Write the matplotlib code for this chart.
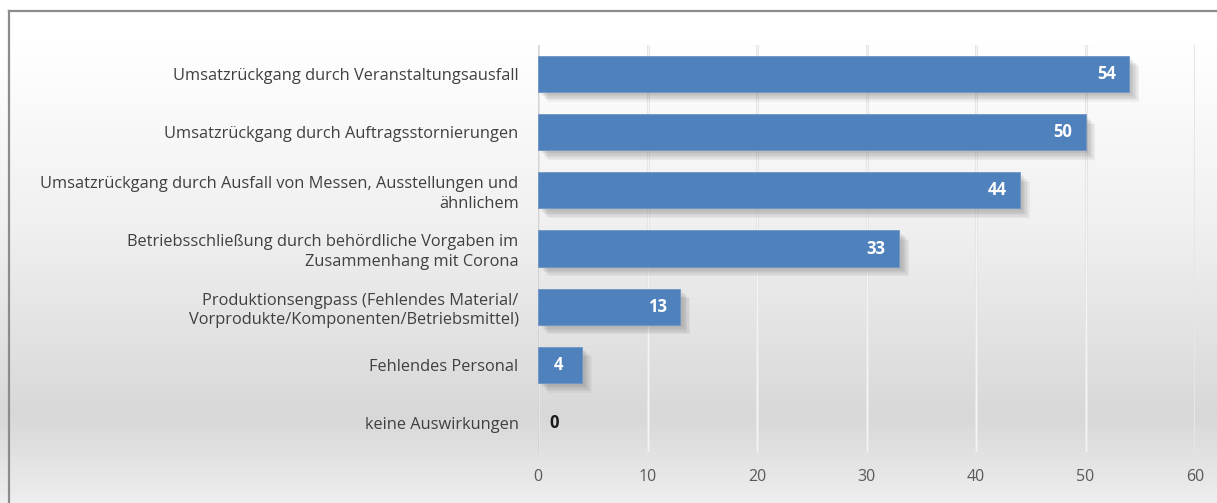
import matplotlib
matplotlib.use("Agg")
import matplotlib.pyplot as plt
import numpy as np
from matplotlib import patheffects as pe
from matplotlib.colors import LinearSegmentedColormap

categories = [
    "Umsatzrückgang durch Veranstaltungsausfall",
    "Umsatzrückgang durch Auftragsstornierungen",
    "Umsatzrückgang durch Ausfall von Messen, Ausstellungen und\nähnlichem",
    "Betriebsschließung durch behördliche Vorgaben im\nZusammenhang mit Corona",
    "Produktionsengpass (Fehlendes Material/\nVorprodukte/Komponenten/Betriebsmittel)",
    "Fehlendes Personal",
    "keine Auswirkungen",
]
values = [54, 50, 44, 33, 13, 4, 0]
xticks = [0, 10, 20, 30, 40, 50, 60]

plt.rcParams['font.family'] = ['Open Sans', 'DejaVu Sans']

W, H = 1217, 503
fig = plt.figure(figsize=(W / 100, H / 100), dpi=100)

# background gradient
bg = fig.add_axes([0, 0, 1, 1], zorder=-10)
bg.set_axis_off()
stops = [(0.0, '#ffffff'), (0.09, '#ffffff'), (0.45, '#f0f0f0'),
         (0.83, '#d8d8d8'), (1.0, '#eeeeee')]
cmap = LinearSegmentedColormap.from_list('bg', stops)
grad = np.linspace(0, 1, 256).reshape(-1, 1)
bg.imshow(grad, aspect='auto', cmap=cmap, extent=[0, 1, 0, 1], origin='upper')
bg.set_xlim(0, 1)
bg.set_ylim(0, 1)
# border
bg.plot([9 / W, 9 / W], [0, 1 - 11 / H], color='#8c8c8c', lw=1.6)
bg.plot([9 / W, 1], [1 - 11 / H, 1 - 11 / H], color='#8c8c8c', lw=1.6)

left, right = 538 / W, 1195 / W
bottom, top = 1 - 452 / H, 1 - 45 / H
ax = fig.add_axes([left, bottom, right - left, top - bottom])
ax.set_facecolor('none')

shadow = [pe.SimplePatchShadow(offset=(o, -o), shadow_rgbFace='#606060', alpha=0.07)
          for o in (2, 3, 4, 5, 6, 7)]
y = np.arange(len(categories))
for yi, v in zip(y, values):
    if v > 0:
        ax.barh(yi, v, height=0.62, color='#4f81bd', edgecolor='#6f95c6', lw=0.6,
                zorder=3, path_effects=shadow + [pe.Normal()])
        ax.text(v - 2.1, yi, str(v), ha='center', va='center', color='white',
                fontsize=12, fontweight='bold', zorder=5)
    else:
        ax.text(1.5, yi, str(v), ha='center', va='center', color='#1a1a1a',
                fontsize=12, fontweight='bold', zorder=5)

ax.set_xlim(0, 60)
ax.set_ylim(len(categories) - 0.5, -0.5)
ax.set_xticks(xticks)
ax.set_xticklabels([str(t) for t in xticks], color='#595959', fontsize=11.5)
ax.set_yticks(y)
ax.set_yticklabels(categories, color='#404040', fontsize=11.8, linespacing=1.3)
ax.tick_params(axis='both', length=0)
ax.tick_params(axis='x', pad=12)
ax.tick_params(axis='y', pad=14)
for s in ax.spines.values():
    s.set_visible(False)
for t in xticks:
    ax.axvline(t, color='#e6e6e6', lw=2.2, zorder=1)
    ax.axvline(t, color='#f4f4f4', lw=0.8, zorder=1.1)
ax.axvline(0, color='#d4d4d4', lw=1.5, zorder=2)

fig.savefig('out.png', dpi=100)
